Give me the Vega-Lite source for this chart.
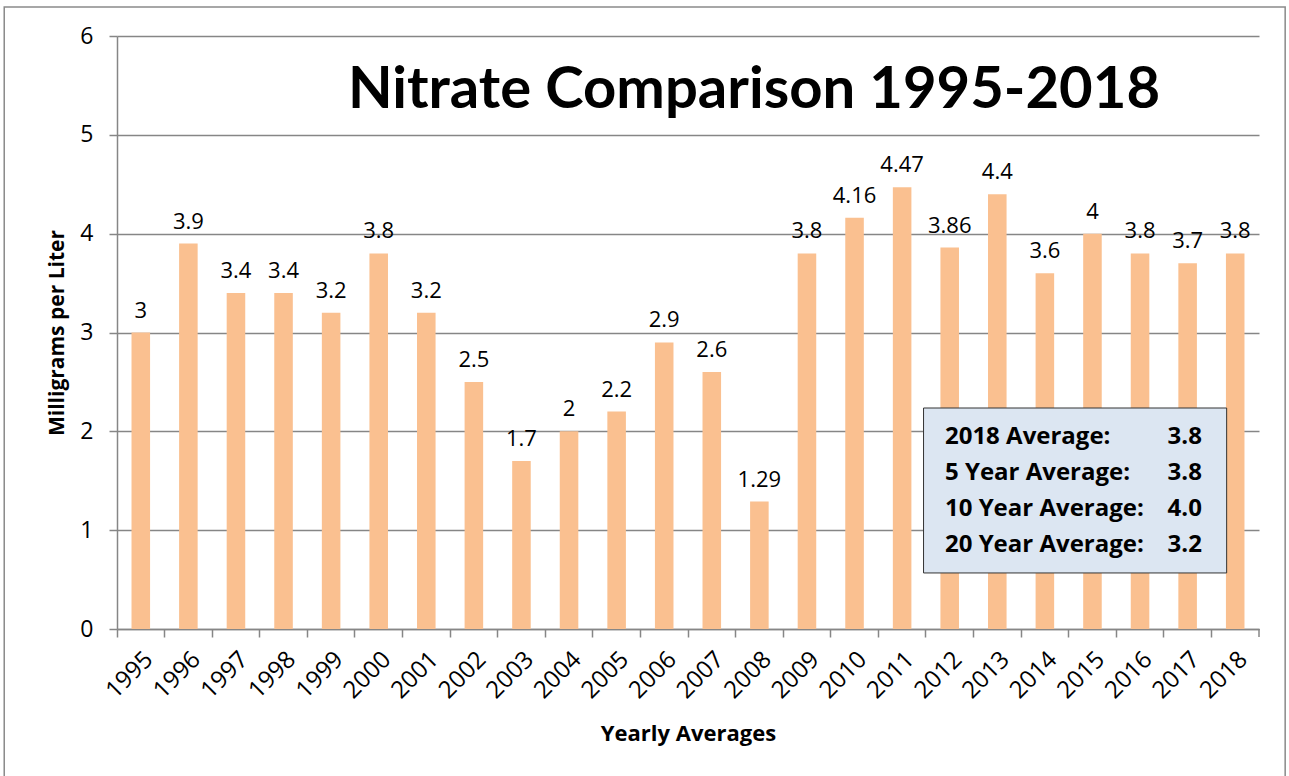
{
  "$schema": "https://vega.github.io/schema/vega-lite/v6.json",
  "autosize": "none",
  "width": 1142,
  "height": 593,
  "padding": {"left": 117, "top": 36, "right": 30, "bottom": 147},
  "background": "white",
  "config": {
    "font": "Open Sans",
    "view": {"stroke": null},
    "axis": {"labelColor": "black", "titleColor": "black"}
  },
  "title": {
    "text": "Nitrate Comparison 1995-2018",
    "font": "Lato",
    "fontSize": 58,
    "fontWeight": "bold",
    "color": "black",
    "anchor": "middle",
    "frame": "group",
    "baseline": "alphabetic",
    "offset": -62,
    "dx": 66,
    "dy": 98
  },
  "data": {
    "values": [
      {"year": "1995", "value": 3},
      {"year": "1996", "value": 3.9},
      {"year": "1997", "value": 3.4},
      {"year": "1998", "value": 3.4},
      {"year": "1999", "value": 3.2},
      {"year": "2000", "value": 3.8},
      {"year": "2001", "value": 3.2},
      {"year": "2002", "value": 2.5},
      {"year": "2003", "value": 1.7},
      {"year": "2004", "value": 2},
      {"year": "2005", "value": 2.2},
      {"year": "2006", "value": 2.9},
      {"year": "2007", "value": 2.6},
      {"year": "2008", "value": 1.29},
      {"year": "2009", "value": 3.8},
      {"year": "2010", "value": 4.16},
      {"year": "2011", "value": 4.47},
      {"year": "2012", "value": 3.86},
      {"year": "2013", "value": 4.4},
      {"year": "2014", "value": 3.6},
      {"year": "2015", "value": 4},
      {"year": "2016", "value": 3.8},
      {"year": "2017", "value": 3.7},
      {"year": "2018", "value": 3.8}
    ]
  },
  "resolve": {"scale": {"x": "independent", "y": "independent"}},
  "layer": [
    {
      "data": {"values": [{}]},
      "mark": {"type": "rect", "fill": null, "stroke": "#8a8a8a", "strokeWidth": 1.5, "clip": false},
      "encoding": {
        "x": {"datum": -2.37, "type": "quantitative", "scale": {"domain": [0, 24], "nice": false, "zero": false}, "axis": null},
        "x2": {"datum": 24.55},
        "y": {"datum": 6.293, "type": "quantitative", "scale": {"domain": [0, 6], "nice": false}, "axis": null},
        "y2": {"datum": -2}
      }
    },
    {
      "mark": {"type": "bar", "color": "#FAC090", "width": {"band": 0.39}},
      "encoding": {
        "x": {
          "field": "year", "type": "nominal", "sort": null,
          "scale": {"paddingInner": 0, "paddingOuter": 0},
          "axis": {
            "title": "Yearly Averages",
            "titleFontSize": 22,
            "titleFontWeight": "bold",
            "titlePadding": 21,
            "labelAngle": -45,
            "labelFontSize": 24,
            "labelPadding": 10,
            "bandPosition": 0,
            "tickSize": 8,
            "tickColor": "#868686",
            "tickWidth": 1.5,
            "domainColor": "#868686",
            "domainWidth": 1.5,
            "grid": false
          }
        },
        "y": {
          "field": "value", "type": "quantitative",
          "scale": {"domain": [0, 6], "nice": false},
          "axis": {
            "title": "Milligrams per Liter",
            "titleFontSize": 21,
            "titleFontWeight": "bold",
            "titlePadding": 12,
            "values": [0, 1, 2, 3, 4, 5, 6],
            "labelFontSize": 23,
            "labelPadding": 16,
            "tickSize": 8,
            "tickColor": "#868686",
            "tickWidth": 1.5,
            "domainColor": "#868686",
            "domainWidth": 1.5,
            "grid": true,
            "gridColor": "#868686",
            "gridWidth": 1.5
          }
        }
      }
    },
    {
      "mark": {"type": "text", "fontSize": 22, "color": "black", "baseline": "alphabetic", "dy": -15},
      "encoding": {
        "x": {"field": "year", "type": "nominal", "sort": null, "scale": {"paddingInner": 0, "paddingOuter": 0}, "axis": null},
        "y": {"field": "value", "type": "quantitative", "scale": {"domain": [0, 6], "nice": false}, "axis": null},
        "text": {"field": "value", "type": "quantitative"}
      }
    },
    {
      "data": {"values": [{}]},
      "mark": {"type": "rule", "color": "#868686", "strokeWidth": 1.5, "clip": false},
      "encoding": {
        "x": {"datum": 24, "type": "quantitative", "scale": {"domain": [0, 24], "nice": false, "zero": false}, "axis": null},
        "y": {"datum": 0, "type": "quantitative", "scale": {"domain": [0, 6], "nice": false}, "axis": null},
        "y2": {"datum": -0.081}
      }
    },
    {
      "data": {"values": [{}]},
      "mark": {"type": "rect", "fill": "#DCE6F2", "stroke": "#333333", "strokeWidth": 1},
      "encoding": {
        "x": {"datum": 16.95, "type": "quantitative", "scale": {"domain": [0, 24], "nice": false, "zero": false}, "axis": null},
        "x2": {"datum": 23.32},
        "y": {"datum": 2.236, "type": "quantitative", "scale": {"domain": [0, 6], "nice": false}, "axis": null},
        "y2": {"datum": 0.567}
      }
    },
    {
      "data": {
        "values": [
          {"row": 1, "label": "2018 Average:", "avg": "3.8"},
          {"row": 2, "label": "5 Year Average:", "avg": "3.8"},
          {"row": 3, "label": "10 Year Average:", "avg": "4.0"},
          {"row": 4, "label": "20 Year Average:", "avg": "3.2"}
        ]
      },
      "mark": {"type": "text", "fontSize": 24, "fontWeight": "bold", "color": "black", "align": "left", "baseline": "middle"},
      "encoding": {
        "x": {"datum": 17.4, "type": "quantitative", "scale": {"domain": [0, 24], "nice": false, "zero": false}, "axis": null},
        "y": {"field": "row", "type": "quantitative", "scale": {"domain": [-10.14, 6.33], "nice": false, "zero": false, "reverse": true}, "axis": null},
        "text": {"field": "label"}
      }
    },
    {
      "data": {
        "values": [
          {"row": 1, "label": "2018 Average:", "avg": "3.8"},
          {"row": 2, "label": "5 Year Average:", "avg": "3.8"},
          {"row": 3, "label": "10 Year Average:", "avg": "4.0"},
          {"row": 4, "label": "20 Year Average:", "avg": "3.2"}
        ]
      },
      "mark": {"type": "text", "fontSize": 24, "fontWeight": "bold", "color": "black", "align": "right", "baseline": "middle"},
      "encoding": {
        "x": {"datum": 22.8, "type": "quantitative", "scale": {"domain": [0, 24], "nice": false, "zero": false}, "axis": null},
        "y": {"field": "row", "type": "quantitative", "scale": {"domain": [-10.14, 6.33], "nice": false, "zero": false, "reverse": true}, "axis": null},
        "text": {"field": "avg"}
      }
    }
  ]
}
